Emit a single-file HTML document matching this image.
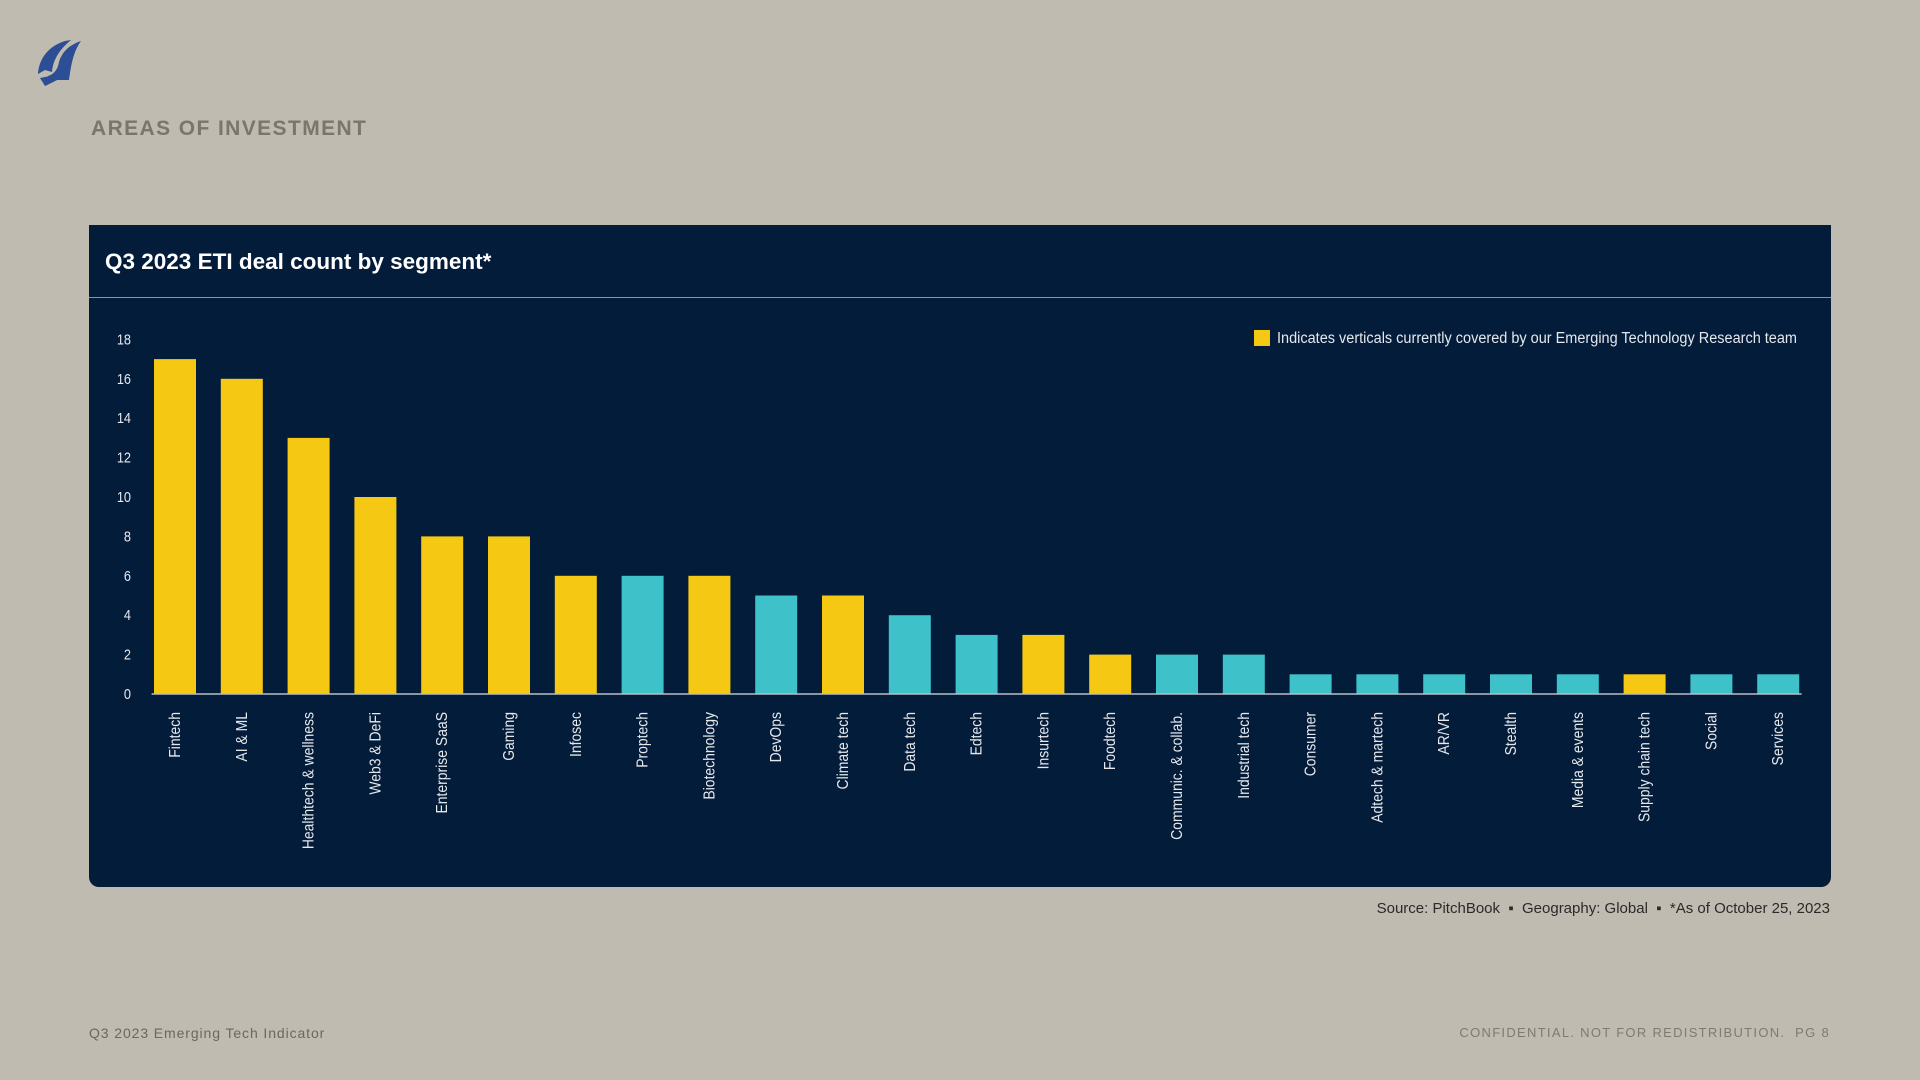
<!DOCTYPE html>
<html><head><meta charset="utf-8">
<style>
html,body{margin:0;padding:0}
body{width:1920px;height:1080px;background:#C0BBB0;position:relative;overflow:hidden;font-family:"Liberation Sans",sans-serif}
.abs{position:absolute}
#panel{left:89px;top:225px;width:1742px;height:662px;background:#031C3A;border-radius:0 0 10px 10px}
#title{left:16px;top:24px;color:#fff;font-size:22.5px;font-weight:bold}
#hdr-line{left:0;top:72px;width:1742px;height:1px;background:#8a94a3}
</style></head>
<body>
<svg class="abs" style="left:35px;top:38px" width="52" height="54" viewBox="0 0 52 54">
<path d="M3 36 C4 20 14 8 30 3 L36 2 C24 12 18 22 17 34 L10 32 Z" fill="#2B4E95"/>
<path d="M10 48 L13 38 C20 36 23 30 24 24 C27 14 34 7 46 3 C38 14 36 28 34 42 L22 42 Z" fill="#2B4E95"/>
<path d="M5 40 L20 37 L22 42 L10 48 Z" fill="#2B4E95"/>
</svg>
<div class="abs" style="left:91px;top:117px;font-size:21px;font-weight:bold;letter-spacing:1.4px;color:#7A756D">AREAS OF INVESTMENT</div>

<div id="panel" class="abs">
<div id="title" class="abs">Q3 2023 ETI deal count by segment*</div>
<div id="hdr-line" class="abs"></div>
<svg id="chart" class="abs" style="left:0;top:0" width="1742" height="662"></svg>
</div>

<div class="abs" style="right:90px;top:900px;font-size:15px;color:#2a2a2a">Source: PitchBook &nbsp;▪&nbsp; Geography: Global &nbsp;▪&nbsp; *As of October 25, 2023</div>
<div class="abs" style="left:89px;top:1025px;font-size:14px;color:#6b675f;letter-spacing:0.9px">Q3 2023 Emerging Tech Indicator</div>
<div class="abs" style="right:90px;top:1025px;font-size:13px;color:#7f7a72;letter-spacing:1.3px">CONFIDENTIAL. NOT FOR REDISTRIBUTION.&nbsp; PG 8</div>

<script>
const categories=["Fintech","AI & ML","Healthtech & wellness","Web3 & DeFi","Enterprise SaaS","Gaming","Infosec","Proptech","Biotechnology","DevOps","Climate tech","Data tech","Edtech","Insurtech","Foodtech","Communic. & collab.","Industrial tech","Consumer","Adtech & martech","AR/VR","Stealth","Media & events","Supply chain tech","Social","Services"];
const values=[17,16,13,10,8,8,6,6,6,5,5,4,3,3,2,2,2,1,1,1,1,1,1,1,1];
const covered=[1,1,1,1,1,1,1,0,1,0,1,0,0,1,1,0,0,0,0,0,0,0,1,0,0];
const yTicks=[0,2,4,6,8,10,12,14,16,18];
const legendText="Indicates verticals currently covered by our Emerging Technology Research team";

const NS="http://www.w3.org/2000/svg";
const svg=document.getElementById('chart');
const y0=469, pxPerUnit=19.7, xStart=52.6, band=66.8, barW=42;
function yScale(v){return y0-v*pxPerUnit;}
function xScale(i){return xStart+band*i+band/2;}
function mk(tag,attrs){const e=document.createElementNS(NS,tag);for(const k in attrs)e.setAttribute(k,attrs[k]);svg.appendChild(e);return e;}

yTicks.forEach(t=>{
  const e=mk('text',{x:42,y:yScale(t)+5,'text-anchor':'end',fill:'#e6e8ec','font-size':15,'font-family':'"Liberation Sans",sans-serif',transform:`translate(42,0) scale(0.85,1) translate(-42,0)`});
  e.textContent=t;
  
  
});
categories.forEach((c,i)=>{
  const v=values[i];
  const r=mk('rect',{x:xScale(i)-barW/2,y:yScale(v),width:barW,height:v*pxPerUnit,fill:covered[i]?'#F5C814':'#3EC1C9'});
  
  
  const tx=xScale(i)+5, ty=y0+18;
  const t=mk('text',{x:0,y:0,transform:`translate(${tx},${ty}) rotate(-90) scale(0.9,1)`,'text-anchor':'end',fill:'#e6e8ec','font-size':15.5,'font-family':'"Liberation Sans",sans-serif'});
  t.textContent=c;
  
  
});
const ax=mk('line',{x1:xStart+10,x2:xStart+band*categories.length-10,y1:y0,y2:y0,stroke:'#b9bec6','stroke-width':1.5});



const ls=mk('rect',{x:1165,y:105,width:16,height:16,fill:'#F5C814'});


const lt=mk('text',{x:1188,y:118,fill:'#e6e8ec','font-size':15.5,textLength:520,lengthAdjust:'spacingAndGlyphs','font-family':'"Liberation Sans",sans-serif'});
lt.textContent=legendText;


</script>
</body></html>
